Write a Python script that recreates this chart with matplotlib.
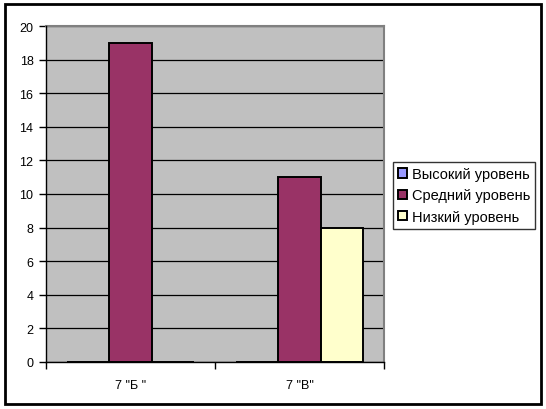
import matplotlib
matplotlib.use("Agg")
import matplotlib.pyplot as plt
from matplotlib.patches import Rectangle
from matplotlib.ticker import FixedLocator, NullFormatter, FixedFormatter
import numpy as np

categories = ['7 "Б "', '7 "В"']
series_names = ["Высокий уровень", "Средний уровень", "Низкий уровень"]
high = [0, 0]
mid = [19, 11]
low = [0, 8]
colors = ["#9999FF", "#993366", "#FFFFCC"]
yticks = list(range(0, 21, 2))

plt.rcParams['font.family'] = ['Liberation Sans', 'DejaVu Sans']
fig = plt.figure(figsize=(5.46, 4.10), dpi=100)

W, H = 546, 410
ax = fig.add_axes([46 / W, 1 - 363 / H, (384 - 46) / W, (363 - 27) / H])
ax.set_facecolor("#C0C0C0")

x = np.arange(len(categories))
bw = 0.25
for i, (vals, c, name) in enumerate(zip([high, mid, low], colors, series_names)):
    ax.bar(x + (i - 1) * bw, vals, width=bw, color=c, edgecolor="black",
           linewidth=1.4, label=name, zorder=3)

ax.set_xlim(-0.5, 1.5)
ax.set_ylim(0, 20)
ax.set_yticks(yticks)
ax.set_yticklabels([str(v) for v in yticks])
ax.yaxis.grid(True, color="black", linewidth=0.9, zorder=1)
ax.set_axisbelow(True)

ax.xaxis.set_major_locator(FixedLocator([-0.5, 0.5, 1.5]))
ax.xaxis.set_major_formatter(NullFormatter())
ax.xaxis.set_minor_locator(FixedLocator(list(x)))
ax.xaxis.set_minor_formatter(FixedFormatter(categories))
ax.tick_params(axis='x', which='minor', length=0, pad=12, labelsize=9)
ax.tick_params(axis='x', which='major', length=5, direction='out', width=1)
ax.tick_params(axis='y', length=5, direction='out', width=1, labelsize=9, pad=4)

for s in ['top', 'right']:
    ax.spines[s].set_color("#808080")
    ax.spines[s].set_linewidth(1.5)
for s in ['left', 'bottom']:
    ax.spines[s].set_color("black")
    ax.spines[s].set_linewidth(1.0)
    ax.spines[s].set_zorder(4)

leg = fig.legend(loc='upper left', bbox_to_anchor=(393 / W, 1 - 163 / H),
                 frameon=True, fancybox=False, edgecolor="black",
                 fontsize=10.5, handlelength=0.6, handleheight=0.6,
                 handletextpad=0.35, borderpad=0.35, labelspacing=0.5,
                 borderaxespad=0)
leg.get_frame().set_linewidth(1.0)

fig.patches.append(Rectangle((5 / W, 5 / H), (541 - 5) / W, (405 - 5) / H,
                             transform=fig.transFigure, fill=False,
                             edgecolor="black", linewidth=2))

fig.savefig("out.png", dpi=100)
